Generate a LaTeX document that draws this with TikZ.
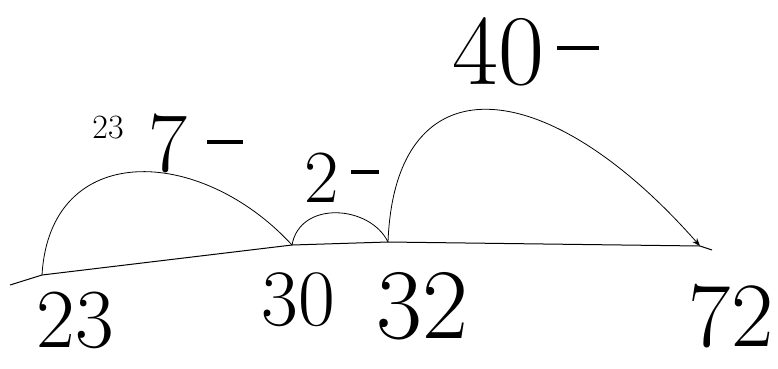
\documentclass[tikz,border=0pt]{standalone}
\usetikzlibrary{arrows.meta}
\begin{document}
\begin{tikzpicture}[x=1pt,y=-1pt,
  line/.style={line width=1pt,black},
  arc/.style={line width=0.8pt,black},
  lbl/.style={inner sep=0pt,font=\fontsize{#1}{#1}\selectfont},
  dashmark/.style={fill=black,inner sep=0pt,minimum height=4pt,minimum width=#1}]
\useasboundingbox (0,0) rectangle (778,368);
\fill[white] (0,0) rectangle (778,368);
% points on the number line
\coordinate (s) at (10,285);
\coordinate (p23) at (42,275);
\coordinate (p30) at (292,245);
\coordinate (p32) at (388,242);
\coordinate (p72) at (700,246);
\coordinate (e) at (712,250);
% number line
\draw[line] (s) -- (p23) -- (p30) -- (p32) -- (p72) -- (e);
% jumps
\draw[arc] (p23) .. controls (50,140) and (200,145) .. (p30);
\draw[arc] (p30) .. controls (300,200) and (370,205) .. (p32);
\draw[arc,-{Stealth[length=8pt,width=6pt]}] (p32) .. controls (395,60) and (545,70) .. (p72);
% number labels
\node[lbl=84] (n23) at (75,320) {23};
\node[lbl=80] (n30) at (298,300) {30};
\node[lbl=100] (n32) at (422,306) {32};
\node[lbl=92] (n72) at (731,316) {72};
% jump labels
\node[lbl=34] (j1a) at (108,128) {23};
\node[lbl=85] (j1b) at (168,143) {7};
\node[dashmark=36pt] (j1c) at (225,142) {};
\node[lbl=75] (j2a) at (322,178) {2};
\node[dashmark=28pt] (j2b) at (365,172) {};
\node[lbl=100] (j3a) at (498,52) {40};
\node[dashmark=42pt] (j3b) at (578,48) {};
\end{tikzpicture}
\end{document}
